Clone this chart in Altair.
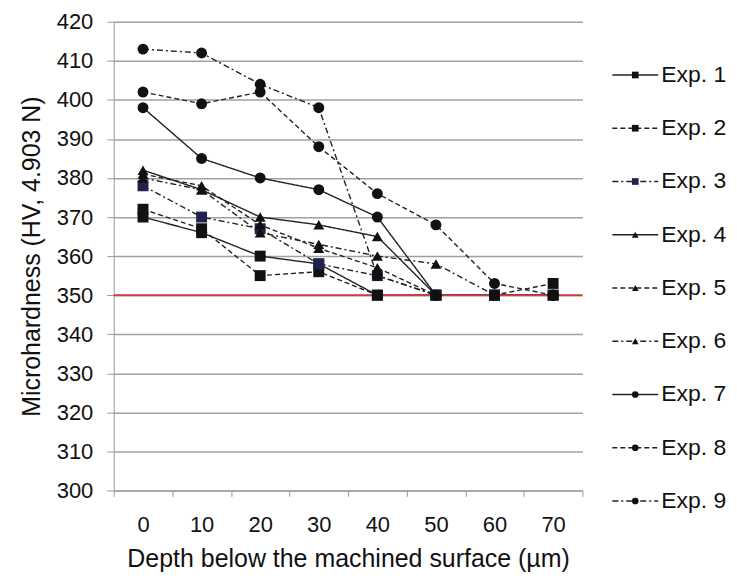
import altair as alt
import pandas as pd

depths = [0, 10, 20, 30, 40, 50, 60, 70]
experiments = ["Exp. 1", "Exp. 2", "Exp. 3", "Exp. 4", "Exp. 5",
               "Exp. 6", "Exp. 7", "Exp. 8", "Exp. 9"]
exp1 = [370, 366, 360, 358, 350, 350, 350, 350]
exp2 = [372, 367, 355, 356, 350, 350, 350, 353]
exp3 = [378, 370, 367, 358, 355, 350, 350, 350]
exp4 = [382, 377, 370, 368, 365, 350, 350, 350]
exp5 = [381, 378, 368, 362, 357, 350, 350, 350]
exp6 = [380, 377, 366, 363, 360, 358, 350, 350]
exp7 = [398, 385, 380, 377, 370, 350, 350, 350]
exp8 = [402, 399, 402, 388, 376, 368, 353, 350]
exp9 = [413, 412, 404, 398, 355, 350, 350, 350]
series = [exp1, exp2, exp3, exp4, exp5, exp6, exp7, exp8, exp9]
reference_hv = 350
y_ticks = [300, 310, 320, 330, 340, 350, 360, 370, 380, 390, 400, 410, 420]

shapes = ["square", "square", "square", "triangle-up", "triangle-up",
          "triangle-up", "circle", "circle", "circle"]
solid, dashed, dashdot = [1, 0], [5, 3], [6, 3, 2, 3]
dashes = [solid, dashed, dashdot] * 3
marker_colors = ["#111111", "#111111", "#22224e"] + ["#111111"] * 6

rows = []
for name, vals in zip(experiments, series):
    for d, v in zip(depths, vals):
        rows.append({"Exp": name, "Depth": d, "HV": v})
df = pd.DataFrame(rows)

FONT = "Liberation Sans"

x_enc = alt.X("Depth:O", bandPosition=0.5,
              scale=alt.Scale(type="band", paddingInner=0, paddingOuter=0),
              axis=alt.Axis(title="Depth below the machined surface (µm)",
                            labelAngle=0, tickBand="extent", grid=False,
                            labelOverlap=False,
                            domainColor="#9a9a9a", tickColor="#9a9a9a",
                            tickSize=6, labelPadding=18, labelFontSize=22,
                            titleFontSize=25, titlePadding=11,
                            labelColor="#111", titleColor="#111",
                            titleFontWeight="normal", labelFont=FONT,
                            titleFont=FONT))
y_axis = alt.Axis(title="Microhardness (HV, 4.903 N)",
                  values=y_ticks, tickCount=13,
                  labelOverlap=False, labelSeparation=0,
                  grid=True, gridColor="#a0a0a0", gridWidth=1.5,
                  domainColor="#9a9a9a", tickColor="#9a9a9a",
                  tickSize=7, labelPadding=14, labelFontSize=22,
                  titleFontSize=25, titlePadding=12,
                  labelColor="#111", titleColor="#111",
                  titleFontWeight="normal", labelFont=FONT,
                  titleFont=FONT)
y_scale = alt.Scale(domain=[300, 420], nice=False, zero=False)
y_enc = alt.Y("HV:Q", scale=y_scale, axis=y_axis)

dash_scale = alt.Scale(domain=experiments, range=dashes)
shape_scale = alt.Scale(domain=experiments, range=shapes)
color_scale = alt.Scale(domain=experiments, range=marker_colors)

base = alt.Chart(df)
lines = base.mark_line(color="#222222", strokeWidth=1.4).encode(
    x=x_enc, y=y_enc,
    strokeDash=alt.StrokeDash("Exp:N", scale=dash_scale, legend=None),
    detail="Exp:N",
)
points = base.mark_point(filled=True, size=120, opacity=1).encode(
    x=x_enc, y=y_enc,
    shape=alt.Shape("Exp:N", scale=shape_scale, legend=None),
    color=alt.Color("Exp:N", scale=color_scale, legend=None),
)
ref = alt.Chart(pd.DataFrame({"HV": [reference_hv]})).mark_rule(
    color="#c8413c", strokeWidth=2).encode(y=y_enc)

main = alt.layer(lines, ref, points).properties(width=470, height=470)

leg_df = pd.DataFrame({"Exp": experiments})
ly = alt.Y("Exp:N", sort=experiments,
           scale=alt.Scale(type="point", padding=1.09), axis=None)
leg_rule = alt.Chart(leg_df).mark_rule(color="#222222", strokeWidth=1.4).encode(
    x=alt.value(0), x2=alt.value(46), y=ly,
    strokeDash=alt.StrokeDash("Exp:N", scale=dash_scale, legend=None))
leg_pt = alt.Chart(leg_df).mark_point(filled=True, size=45, opacity=1).encode(
    x=alt.value(23), y=ly,
    shape=alt.Shape("Exp:N", scale=shape_scale, legend=None),
    color=alt.Color("Exp:N", scale=color_scale, legend=None))
leg_txt = alt.Chart(leg_df).mark_text(align="left", baseline="middle",
                                      fontSize=23, font=FONT,
                                      color="#111").encode(
    x=alt.value(49), y=ly, text="Exp:N")
legend = alt.layer(leg_rule, leg_pt, leg_txt).properties(width=100, height=534)

chart = alt.hconcat(main, legend, spacing=28).properties(
    padding={"left": 11, "top": 2, "right": 2, "bottom": 2},
    background="white",
).configure_view(stroke=None)

chart.save("out.html", embed_options={"renderer": "svg", "actions": False})
